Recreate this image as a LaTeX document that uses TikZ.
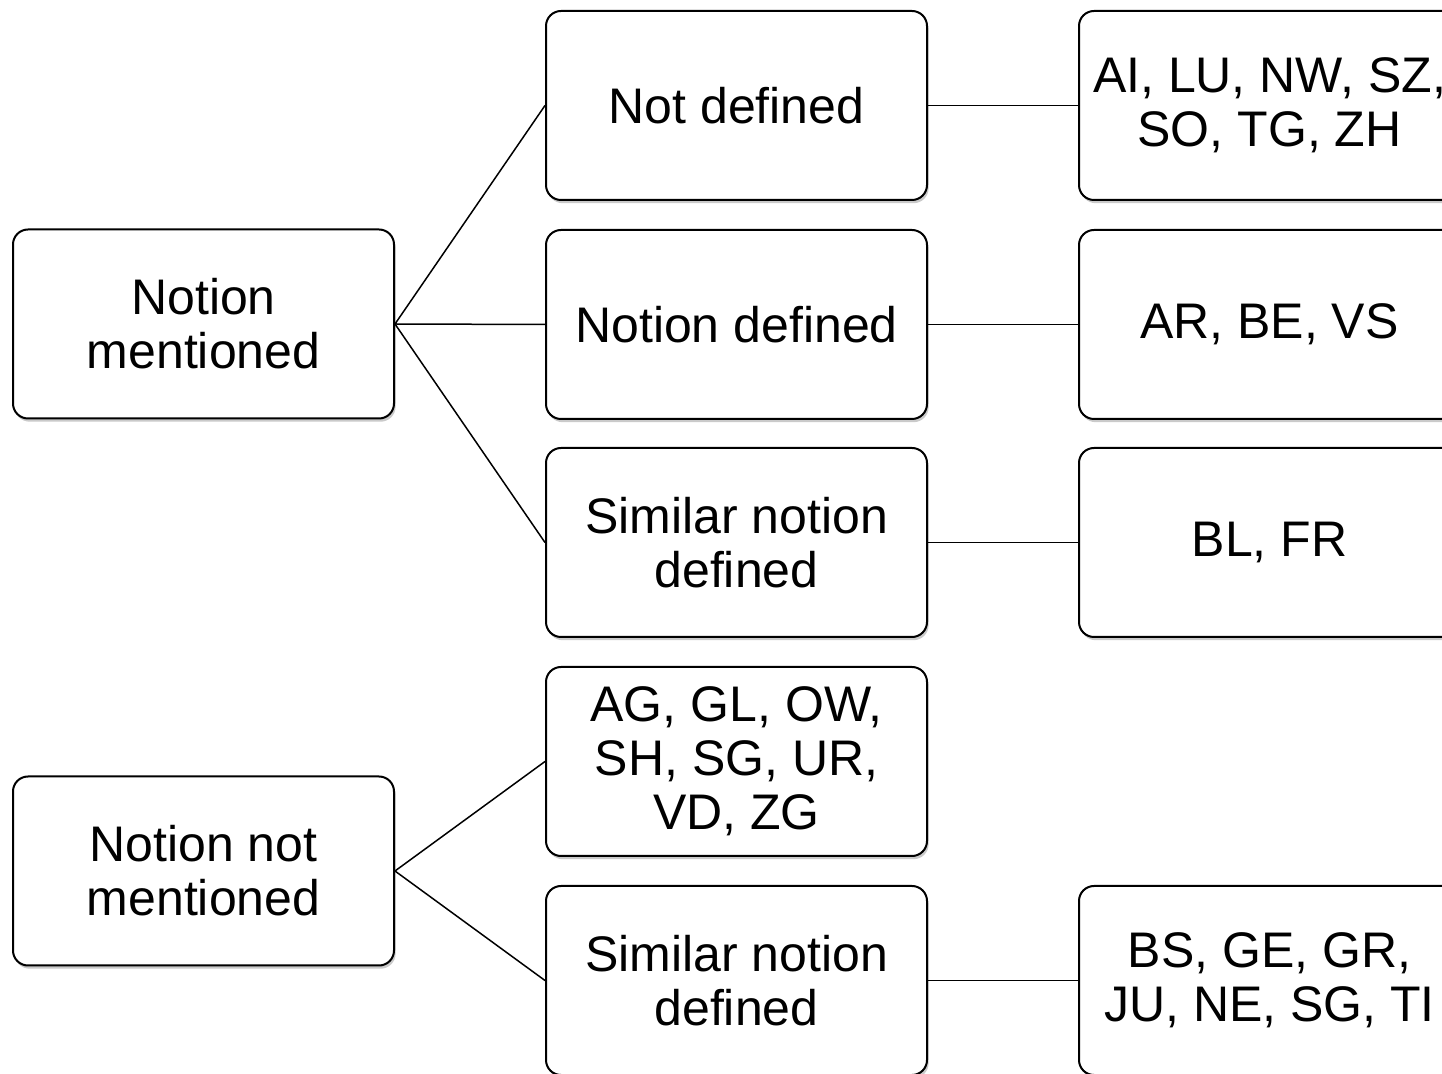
\documentclass[tikz,border=0pt]{standalone}
\usepackage{fontspec}
\setmainfont{Liberation Sans}
\usepackage{tikz}
\usetikzlibrary{shadows}

\tikzset{
  catbox/.style={draw, line width=1pt, rounded corners=7.5pt, fill=white,
    minimum width=190.5pt, minimum height=94.5pt, align=center,
    inner sep=0pt, font=\fontsize{25}{27}\selectfont,
    drop shadow={shadow xshift=0.8pt, shadow yshift=-1.6pt, opacity=0.35, fill=black!60}},
  link/.style={line width=0.75pt}
}

\begin{document}
\begin{tikzpicture}[x=0.5pt, y=-0.5pt, line cap=round]
  \useasboundingbox (0,0) rectangle (1442,1074);
  \clip (0,0) rectangle (1442,1074);

  \def\colA{203.5}
  \def\colB{736.5}
  \def\colC{1269.5}

  % first level
  \node[catbox] (nm)  at (\colA,324) {Notion\\mentioned};
  \node[catbox] (nnm) at (\colA,871) {Notion not\\mentioned};

  % second level
  \node[catbox] (nd)  at (\colB,105.5) {Not defined};
  \node[catbox] (def) at (\colB,324.5) {Notion defined};
  \node[catbox] (sim) at (\colB,542.5) {Similar notion\\defined};
  \node[catbox] (non) at (\colB,761.5) {AG, GL, OW,\\SH, SG, UR,\\VD, ZG};
  \node[catbox] (simb) at (\colB,980.5) {Similar notion\\defined};

  % cantons
  \node[catbox] (cnd)  at (\colC,105.5) {AI, LU, NW, SZ,\\SO, TG, ZH};
  \node[catbox] (cdef) at (\colC,324.5) {AR, BE, VS};
  \node[catbox] (csim) at (\colC,542.5) {BL, FR};
  \node[catbox] (csimb) at (\colC,980.5) {BS, GE, GR,\\JU, NE, SG, TI};

  \draw[link] (nm.east) -- (nd.west);
  \draw[link] (nm.east) -- (def.west);
  \draw[link] (nm.east) -- (sim.west);
  \draw[link] (nnm.east) -- (non.west);
  \draw[link] (nnm.east) -- (simb.west);

  \draw[link] (nd.east) -- (cnd.west);
  \draw[link] (def.east) -- (cdef.west);
  \draw[link] (sim.east) -- (csim.west);
  \draw[link] (simb.east) -- (csimb.west);
\end{tikzpicture}
\end{document}
